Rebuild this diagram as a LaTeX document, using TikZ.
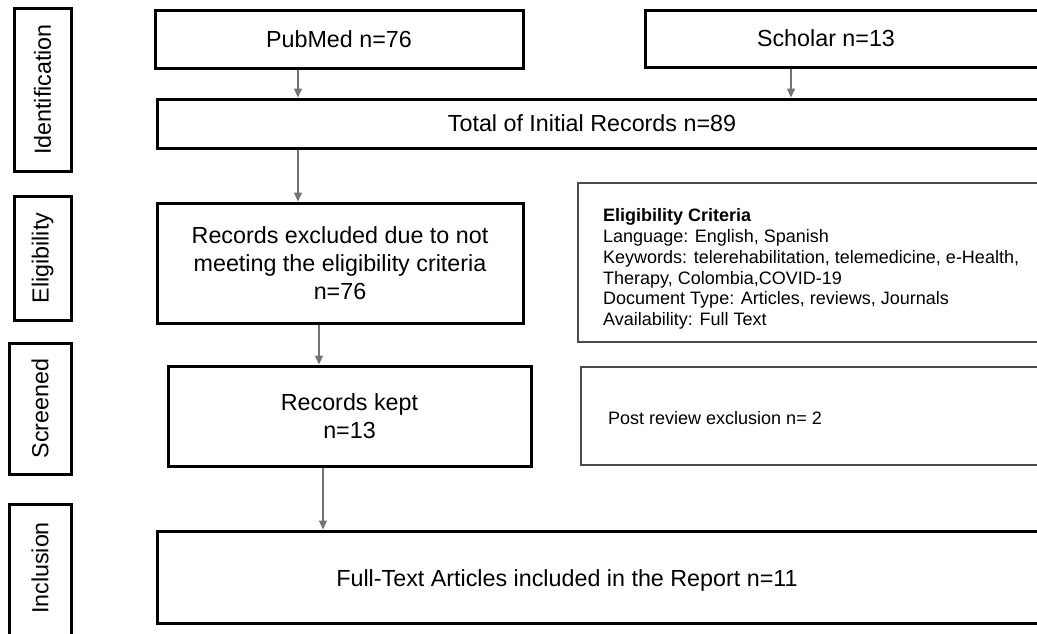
\documentclass[tikz,border=0pt]{standalone}
\usepackage{fontspec}
\setmainfont{Liberation Sans}
\usetikzlibrary{arrows.meta}
\begin{document}
\begin{tikzpicture}[x=1pt,y=-1pt,
  mainbox/.style={draw=black, line width=3pt, inner sep=0pt},
  labbox/.style={draw=black, line width=3pt, inner sep=0pt, rotate=90, font=\fontsize{23.3}{28}\selectfont},
  thinbox/.style={draw=black!70, line width=1.4pt, inner sep=0pt},
  maintxt/.style={font=\fontsize{23.3}{28}\selectfont, align=center},
  smalltxt/.style={font=\fontsize{18}{20.8}\selectfont, align=left, inner sep=0pt},
  arr/.style={draw=black!55, line width=1.3pt, -{Triangle[width=8pt,length=9pt]}}]
\useasboundingbox (0,0) rectangle (1037,633);
\fill[white] (0,0) rectangle (1037,633);
\clip (0,0) rectangle (1037,633);

% stage labels
\node[labbox, minimum width=163pt, minimum height=57pt] (ident) at (42.5,89.5) {Identification};
\node[labbox, minimum width=124pt, minimum height=57pt] (elig) at (42.5,258) {Eligibility};
\node[labbox, minimum width=131pt, minimum height=62pt] (screen) at (40,408.5) {Screened};
\node[labbox, minimum width=156pt, minimum height=62pt] (incl) at (40,582) {};
\node[maintxt, rotate=90] (inclT) at (40,568) {Inclusion};

% main boxes
\node[mainbox, maintxt, minimum width=368pt, minimum height=58pt] (pub) at (339,39) {PubMed n=76};
\node[mainbox, minimum width=415pt, minimum height=57pt] (scholar) at (852.5,38.5) {};
\node[maintxt] (scholarT) at (826,38.5) {Scholar n=13};
\node[mainbox, minimum width=903pt, minimum height=49pt] (total) at (608.5,123.5) {};
\node[maintxt] (totalT) at (592,123.5) {Total of Initial Records n=89};
\node[mainbox, maintxt, minimum width=366pt, minimum height=120pt] (excl) at (340,263)
  {Records excluded due to not\\meeting the eligibility criteria\\n=76};
\node[thinbox, minimum width=482pt, minimum height=159pt] (crit) at (819,262.5) {};
\node[smalltxt, anchor=north west] (critT) at (603,208.4)
  {\textbf{Eligibility Criteria}\\
   Language: English, Spanish\\
   Keywords: telerehabilitation, telemedicine, e-Health,\\
   Therapy, Colombia,COVID-19\\
   Document Type: Articles, reviews, Journals\\
   Availability: Full Text};
\node[mainbox, maintxt, minimum width=363pt, minimum height=100pt] (kept) at (349.5,416)
  {Records kept\\n=13};
\node[thinbox, minimum width=479pt, minimum height=98pt] (post) at (820.5,416) {};
\node[smalltxt, anchor=west] (postT) at (608,418) {Post review exclusion n= 2};
\node[mainbox, minimum width=903pt, minimum height=92pt] (full) at (608.5,577) {};
\node[maintxt] (fullT) at (567,580) {Full-Text Articles included in the Report n=11};

% connectors
\draw[arr] ([xshift=-41pt]pub.south) -- ([xshift=-41pt]pub.south |- total.north);
\draw[arr] ([xshift=-61.5pt]scholar.south) -- ([xshift=-61.5pt]scholar.south |- total.north);
\draw[arr] ([xshift=-42pt]excl.north |- total.south) -- ([xshift=-42pt]excl.north);
\draw[arr] ([xshift=-21pt]excl.south) -- ([xshift=-21pt]excl.south |- kept.north);
\draw[arr] ([xshift=-26.5pt]kept.south) -- ([xshift=-26.5pt]kept.south |- full.north);
\end{tikzpicture}
\end{document}
